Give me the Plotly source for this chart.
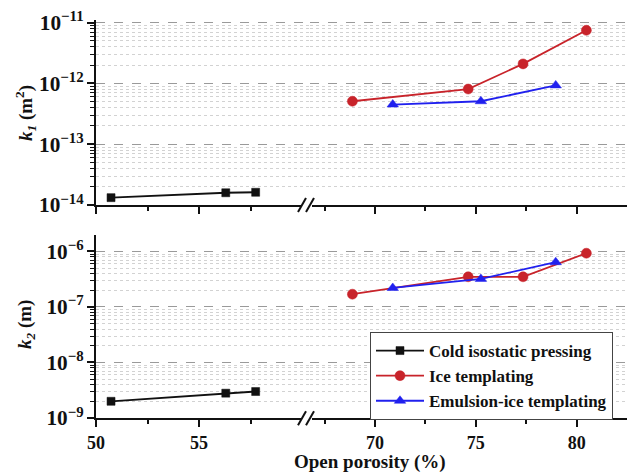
import plotly.graph_objects as go

# ---- data ----
cip_x = [50.73, 56.3, 57.75]
cip_k1 = [1.32e-14, 1.59e-14, 1.62e-14]
cip_k2 = [2.0e-9, 2.8e-9, 3.0e-9]

ice_x = [68.88, 74.62, 77.34, 80.48]
ice_k1 = [5.1e-13, 8.1e-13, 2.1e-12, 7.5e-12]
ice_k2 = [1.7e-7, 3.5e-7, 3.5e-7, 9.3e-7]

emu_x = [70.88, 75.25, 78.96]
emu_k1 = [4.5e-13, 5.1e-13, 9.3e-13]
emu_k2 = [2.2e-7, 3.2e-7, 6.4e-7]

names = ["Cold isostatic pressing", "Ice templating", "Emulsion-ice templating"]
left_ticks = [50, 55]
right_ticks = [70, 75, 80]

W, H = 627, 474
L, R, T, B = 96, 0, 20, 56
pw, ph = W - L - R, H - T - B


def px(x):
    return (x - L) / pw


def py(y):
    return (H - B - y) / ph


FONT = "Liberation Serif"
BLACK = "#111111"
RED = "#c8232a"
BLUE = "#2020ee"

fig = go.Figure()

styles = [
    dict(color=BLACK, symbol="square", size=8),
    dict(color=RED, symbol="circle", size=10),
    dict(color=BLUE, symbol="triangle-up", size=10),
]

series = [
    (cip_x, cip_k1, cip_k2, "x", "x3"),
    (ice_x, ice_k1, ice_k2, "x2", "x4"),
    (emu_x, emu_k1, emu_k2, "x2", "x4"),
]

for i, (xs, k1, k2, xa_top, xa_bot) in enumerate(series):
    st = styles[i]
    mk = dict(symbol=st["symbol"], size=st["size"], color=st["color"],
              line=dict(width=0.5, color=st["color"]))
    fig.add_trace(go.Scatter(x=xs, y=k1, xaxis=xa_top, yaxis="y", mode="lines+markers",
                             line=dict(color=st["color"], width=1.8), marker=mk,
                             name=names[i], showlegend=False))
    fig.add_trace(go.Scatter(x=xs, y=k2, xaxis=xa_bot, yaxis="y2", mode="lines+markers",
                             line=dict(color=st["color"], width=1.8), marker=mk,
                             name=names[i], showlegend=True))

dL = px(310)
left_range = [50, 50 + (310 - 96) / 20.6]
right_range = [70 - (375 - 310) / 20.17, 80 + (627 - 576.7) / 20.17]

xcommon = dict(showline=True, linecolor=BLACK, linewidth=2, ticks="outside", ticklen=7,
               tickwidth=2, tickcolor=BLACK, showgrid=False, zeroline=False,
               tickfont=dict(family=FONT, size=18, color=BLACK, weight="bold"))

fig.update_layout(
    xaxis=dict(xcommon, domain=[0, dL], anchor="y", range=left_range, tickmode="array",
               tickvals=left_ticks, showticklabels=False,
               minor=dict(tickmode="array", tickvals=[52.5, 57.5], ticks="outside",
                          ticklen=4, tickwidth=1.5, tickcolor=BLACK)),
    xaxis2=dict(xcommon, domain=[dL, 1], anchor="y", range=right_range, tickmode="array",
                tickvals=right_ticks, showticklabels=False,
                minor=dict(tickmode="array", tickvals=[67.5, 72.5, 77.5], ticks="outside",
                           ticklen=4, tickwidth=1.5, tickcolor=BLACK)),
    xaxis3=dict(xcommon, domain=[0, dL], anchor="y2", range=left_range, tickmode="array",
                tickvals=left_ticks,
                minor=dict(tickmode="array", tickvals=[52.5, 57.5], ticks="outside",
                           ticklen=4, tickwidth=1.5, tickcolor=BLACK)),
    xaxis4=dict(xcommon, domain=[dL, 1], anchor="y2", range=right_range, tickmode="array",
                tickvals=right_ticks,
                minor=dict(tickmode="array", tickvals=[67.5, 72.5, 77.5], ticks="outside",
                           ticklen=4, tickwidth=1.5, tickcolor=BLACK)),
)

ycommon = dict(type="log", showline=True, linecolor=BLACK, linewidth=2, ticks="outside",
               ticklen=7, tickwidth=2, tickcolor=BLACK, dtick=1, exponentformat="power",
               showgrid=True, gridcolor="#9a9a9a", griddash="dash", gridwidth=1,
               zeroline=False, tickfont=dict(family=FONT, size=17, color=BLACK, weight="bold"),
               minor=dict(dtick="D1", ticks="outside", ticklen=4, tickwidth=1,
                          tickcolor=BLACK, showgrid=True, gridcolor="#d2d2d2",
                          griddash="dot", gridwidth=1))

fig.update_layout(
    yaxis=dict(ycommon, domain=[py(205), 1], anchor="x",
               range=[-14, -11 + (22.7 - 20) / 60.8]),
    yaxis2=dict(ycommon, domain=[0, py(235)], anchor="x3",
                range=[-9, -9 + (418.3 - 235) / 55.6]),
)

# axis-break marks
shapes = []
for yb in (205, 418.3):
    shapes.append(dict(type="rect", xref="paper", yref="paper",
                       x0=px(302), x1=px(312), y0=py(yb + 3), y1=py(yb - 3),
                       fillcolor="white", line=dict(width=0), layer="above"))
    for x0 in (298, 306):
        shapes.append(dict(type="line", xref="paper", yref="paper",
                           x0=px(x0), x1=px(x0 + 8), y0=py(yb + 7), y1=py(yb - 7),
                           line=dict(color=BLACK, width=2), layer="above"))

annotations = [
    dict(text="<b>Open porosity (%)</b>", xref="paper", yref="paper", x=px(370), y=py(462),
         showarrow=False, xanchor="center", yanchor="middle",
         font=dict(family=FONT, size=19, color=BLACK)),
    dict(text="<b><i>k</i><sub><i>1</i></sub> (m<sup>2</sup>)</b>", xref="paper", yref="paper",
         x=px(26), y=py(113), showarrow=False, textangle=-90, xanchor="center",
         yanchor="middle", font=dict(family=FONT, size=19, color=BLACK)),
    dict(text="<b><i>k</i><sub><i>2</i></sub> (m)</b>", xref="paper", yref="paper",
         x=px(26), y=py(325), showarrow=False, textangle=-90, xanchor="center",
         yanchor="middle", font=dict(family=FONT, size=19, color=BLACK)),
]

fig.update_layout(
    width=W, height=H, margin=dict(l=L, r=R, t=T, b=B),
    paper_bgcolor="white", plot_bgcolor="white",
    shapes=shapes, annotations=annotations,
    legend=dict(x=px(370), y=py(332), xanchor="left", yanchor="top",
                bordercolor="#444444", borderwidth=1, bgcolor="white",
                font=dict(family=FONT, size=17, color=BLACK, weight="bold"), tracegroupgap=0,
                itemwidth=48),
)

fig.write_html("out.html")
